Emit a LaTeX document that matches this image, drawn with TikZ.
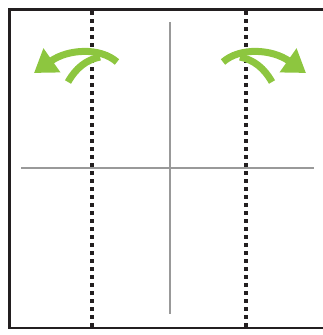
\documentclass[tikz,border=0pt]{standalone}
\usepackage{tikz}
\usetikzlibrary{arrows.meta}
\definecolor{leafgreen}{RGB}{141,198,63}
\definecolor{frameblack}{RGB}{35,31,32}
\definecolor{foldgray}{RGB}{153,153,153}

\begin{document}
\begin{tikzpicture}[
  x=1pt, y=-1pt,
  frame/.style   = {draw=frameblack, line width=2.4pt},
  foldline/.style = {draw=foldgray, line width=2.4pt},
  cutline/.style = {draw=frameblack, line width=4pt, dash pattern=on 4pt off 4pt},
  turn/.style    = {draw=leafgreen, line width=7pt},
  turnarrow/.pic = {
    \draw[turn, -{Triangle[length=22pt, width=28pt]}]
      (117,62) .. controls (100,47) and (68,49) .. (34,73);
    \draw[turn] (68,82) .. controls (76,68) and (86,60) .. (100,57);
  }
]
\useasboundingbox (0,0) rectangle (323,335);

% sheet outline, open at the right
\draw[frame] (330,9.5) -- (9.5,9.5) -- (9.5,328) -- (330,328);

% fold lines
\coordinate (foldTop) at (170,22);
\coordinate (foldBot) at (170,314);
\coordinate (foldLeft) at (21,168);
\coordinate (foldRight) at (314,168);
\draw[foldline] (foldTop) -- (foldBot);
\draw[foldline] (foldLeft) -- (foldRight);

% cut lines
\coordinate (cutTopL) at (92,11);
\coordinate (cutBotL) at (92,327);
\coordinate (cutTopR) at (246,11);
\coordinate (cutBotR) at (246,327);
\draw[cutline] (cutTopL) -- (cutBotL);
\draw[cutline] (cutTopR) -- (cutBotR);

% turn arrows
\pic at (0,0) {turnarrow};
\pic[xscale=-1] at (340,0) {turnarrow};
\end{tikzpicture}
\end{document}
